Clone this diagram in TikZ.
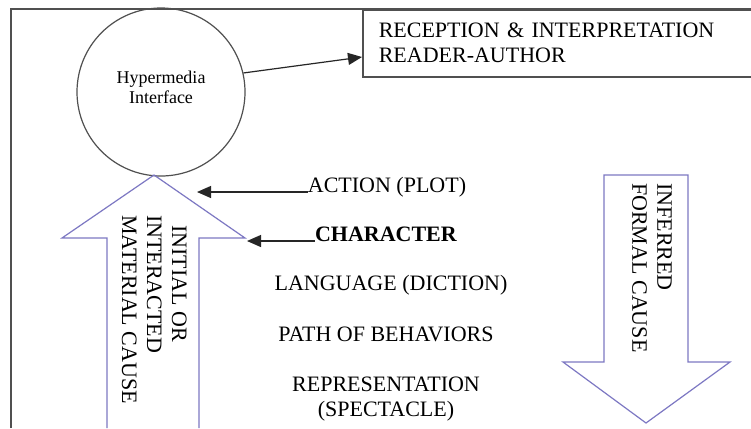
\documentclass[tikz,border=0pt]{standalone}
\usepackage{fontspec}
\setmainfont{Liberation Serif}
\usetikzlibrary{arrows.meta}
\definecolor{arrowblue}{RGB}{125,120,195}
\definecolor{framegray}{RGB}{80,80,80}
\begin{document}
\begin{tikzpicture}[x=1bp,y=-1bp,
  every node/.style={font=\fontsize{22bp}{25bp}\selectfont, inner sep=0pt},
  frameline/.style={draw=framegray, line width=1.5bp},
  bigarrow/.style={draw=arrowblue, line width=1.2bp, line join=miter},
  pointer/.style={draw=black!85, line width=1.2bp, -{Triangle[length=14bp,width=12bp]}},
  rottext/.style={rotate=-90, anchor=north west, align=left}]
\useasboundingbox (0,0) rectangle (751,428);
\fill[white] (0,0) rectangle (751,428);
% outer frame
\draw[frameline] (11,428) -- (11,9) -- (751,9);
% reception box
\node[frameline, rectangle, anchor=north west, minimum width=402bp, minimum height=67bp,
      text width=370bp, align=left, inner xsep=16bp] (rec) at (362,9)
      {RECEPTION \& INTERPRETATION\\READER-AUTHOR};
% circle
\node[circle, draw=framegray, line width=1.2bp, minimum size=168bp] (hyp) at (161,92) {};
\node[font=\fontsize{18bp}{20bp}\selectfont, align=center] (hyptext) at (161,87) {Hypermedia\\Interface};
\coordinate (recin) at (362,57);
\draw[pointer] (hyp.13) -- (rec.west |- recin);
% big up arrow
\draw[bigarrow] (107,428) -- (107,238) -- (62,238) -- (154,175) -- (245,238) -- (199,238) -- (199,428);
\node[rottext] (material) at (187,215) {\hspace*{10bp}INITIAL OR\\INTERACTED\\MATERIAL CAUSE};
% big down arrow
\draw[bigarrow] (604,175) -- (688,175) -- (688,362) -- (730,362) -- (646,423) -- (563,362) -- (604,362) -- cycle;
\node[rottext] (formal) at (672,183) {INFERRED\\FORMAL CAUSE};
% center column
\node[anchor=base] (action) at (387,192) {ACTION (PLOT)};
\node[anchor=base] (character) at (386,241) {\textbf{CHARACTER}};
\node[anchor=base] (language) at (391,290) {LANGUAGE (DICTION)};
\node[anchor=base] (path) at (386,341) {PATH OF BEHAVIORS};
\node[anchor=north, align=center] (repr) at (386,376.5) {REPRESENTATION\\(SPECTACLE)};
% pointers
\coordinate (actiontip) at (197,192);
\coordinate (chartip) at (247,241);
\draw[pointer] (action.base west) -- (actiontip);
\draw[pointer] (character.base west) -- (chartip);
\end{tikzpicture}
\end{document}
